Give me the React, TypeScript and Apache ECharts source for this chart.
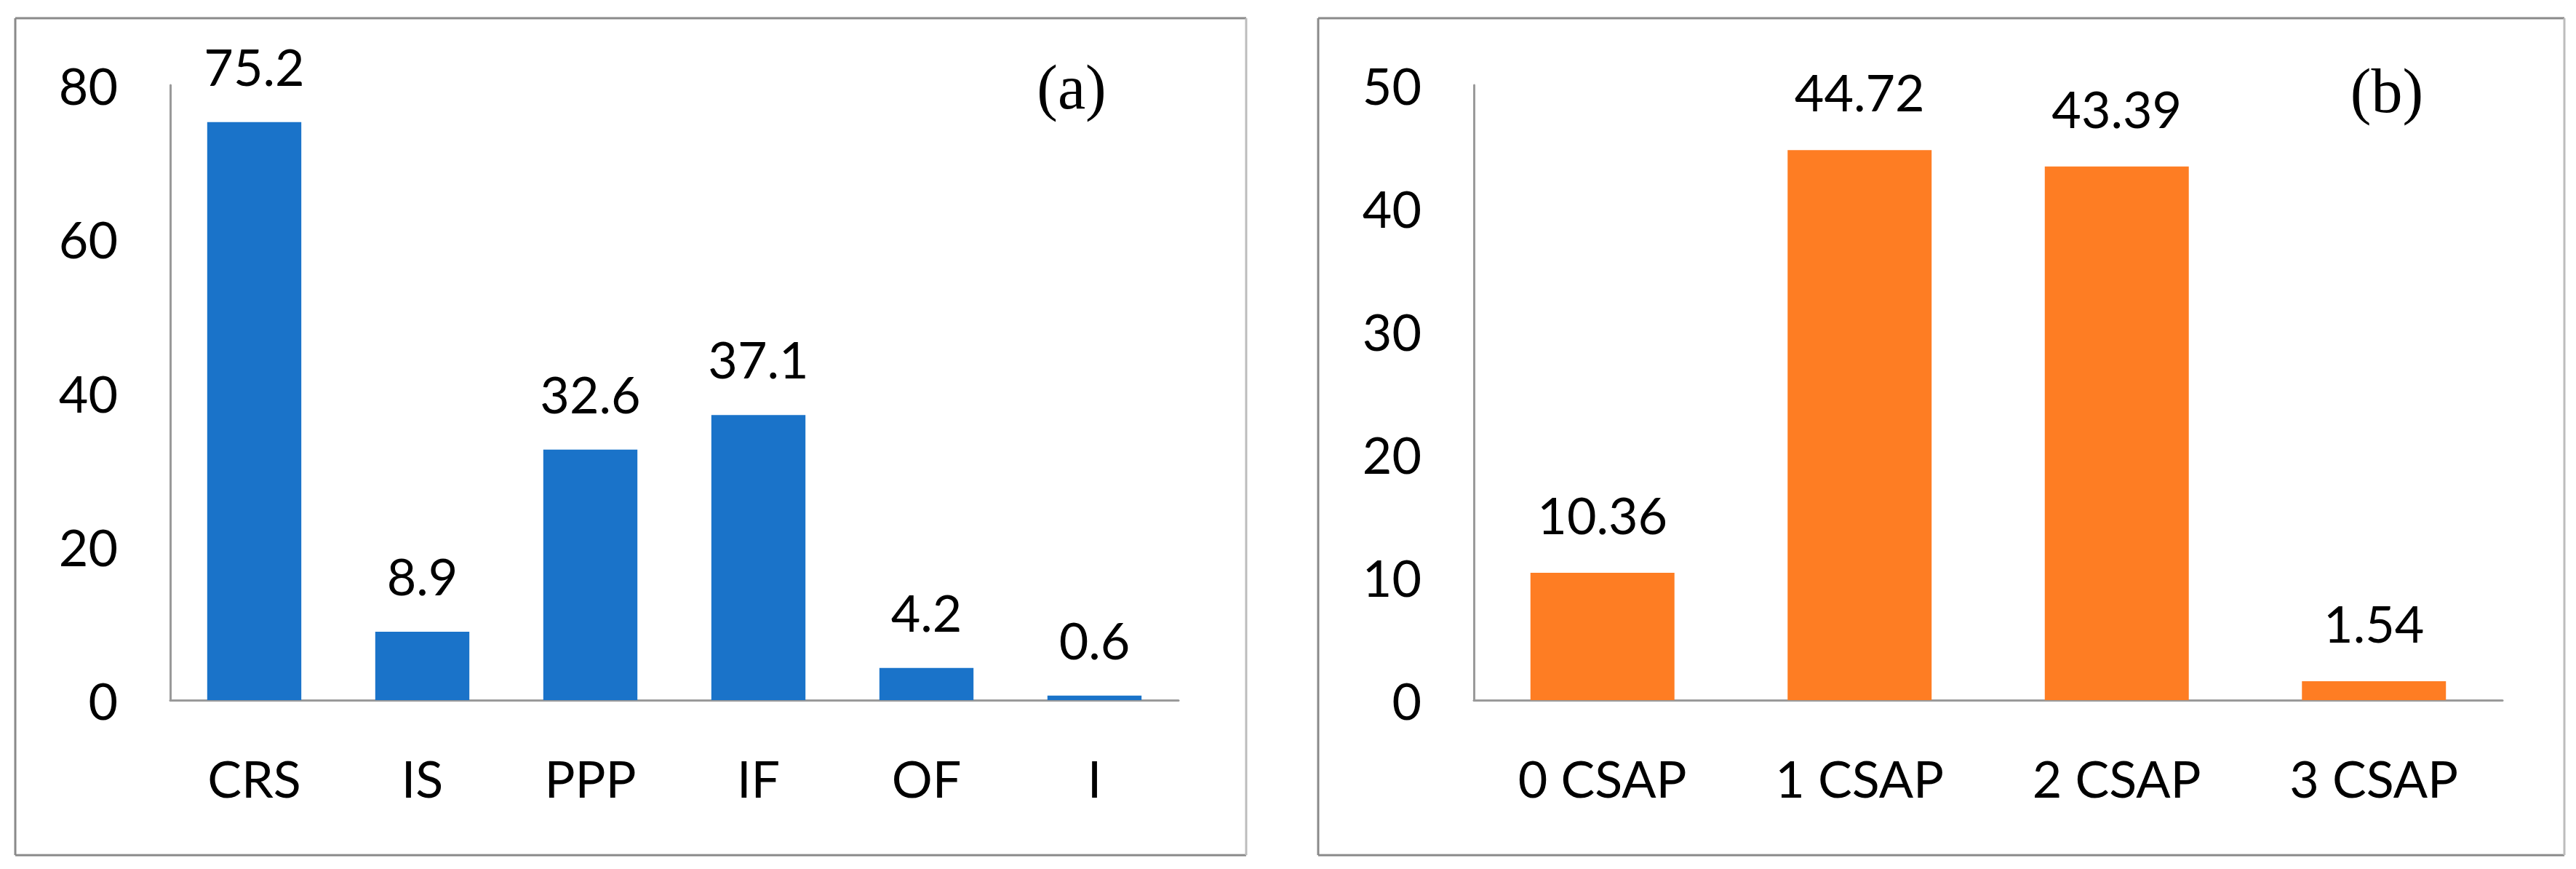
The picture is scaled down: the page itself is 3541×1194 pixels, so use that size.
import React, { useEffect, useRef } from "react";
import * as echarts from "echarts";

const categoriesA = ["CRS", "IS", "PPP", "IF", "OF", "I"];
const valuesA = [75.2, 8.9, 32.6, 37.1, 4.2, 0.6];
const categoriesB = ["0 CSAP", "1 CSAP", "2 CSAP", "3 CSAP"];
const valuesB = [10.36, 44.72, 43.39, 1.54];
const panelLabels = ["(a)", "(b)"];

const FONT = "Lato";
const FS = 70;

function frame(x0: number, y0: number, x1: number, y1: number) {
  const dark = { stroke: "#8a8a8a", lineWidth: 3 };
  const light = { stroke: "#bdbdbd", lineWidth: 3 };
  return [
    { type: "line", silent: true, shape: { x1: x0, y1: y0, x2: x1, y2: y0 }, style: dark },
    { type: "line", silent: true, shape: { x1: x0, y1: y0, x2: x0, y2: y1 }, style: dark },
    { type: "line", silent: true, shape: { x1: x0, y1: y1, x2: x1, y2: y1 }, style: dark },
    { type: "line", silent: true, shape: { x1: x1, y1: y0, x2: x1, y2: y1 }, style: light },
  ];
}

export default function App() {
  const ref = useRef<HTMLDivElement>(null);
  useEffect(() => {
    if (!ref.current) return;
    const chart = echarts.init(ref.current, undefined, { renderer: "svg" });
    const axisLineStyle = { color: "#9a9a9a", width: 3 };
    const labelStyle = { color: "#000", fontFamily: FONT, fontSize: FS };
    chart.setOption({
      animation: false,
      backgroundColor: "#ffffff",
      grid: [
        { left: 234, top: 117, width: 1386, height: 845 },
        { left: 2026, top: 117, width: 1414, height: 845 },
      ],
      xAxis: [
        {
          gridIndex: 0,
          type: "category",
          data: categoriesA,
          axisTick: { show: false },
          axisLine: { lineStyle: axisLineStyle },
          axisLabel: { ...labelStyle, margin: 72 },
        },
        {
          gridIndex: 1,
          type: "category",
          data: categoriesB,
          axisTick: { show: false },
          axisLine: { lineStyle: axisLineStyle },
          axisLabel: { ...labelStyle, margin: 72 },
        },
      ],
      yAxis: [
        {
          gridIndex: 0,
          type: "value",
          min: 0,
          max: 80,
          interval: 20,
          axisLine: { show: true, lineStyle: axisLineStyle },
          axisTick: { show: false },
          splitLine: { show: false },
          axisLabel: { ...labelStyle, margin: 72 },
        },
        {
          gridIndex: 1,
          type: "value",
          min: 0,
          max: 50,
          interval: 10,
          axisLine: { show: true, lineStyle: axisLineStyle },
          axisTick: { show: false },
          splitLine: { show: false },
          axisLabel: { ...labelStyle, margin: 72 },
        },
      ],
      series: [
        {
          type: "bar",
          xAxisIndex: 0,
          yAxisIndex: 0,
          data: valuesA,
          barWidth: "56%",
          itemStyle: { color: "#1a73c9" },
          label: {
            show: true,
            position: "top",
            distance: 42,
            color: "#000",
            fontFamily: FONT,
            fontSize: FS,
          },
        },
        {
          type: "bar",
          xAxisIndex: 1,
          yAxisIndex: 1,
          data: valuesB,
          barWidth: "56%",
          itemStyle: { color: "#fe7d23" },
          label: {
            show: true,
            position: "top",
            distance: 45,
            color: "#000",
            fontFamily: FONT,
            fontSize: FS,
          },
        },
      ],
      graphic: [
        ...frame(21, 25, 1713, 1175),
        ...frame(1812, 25, 3525, 1175),
        {
          type: "text",
          x: 1473,
          y: 120,
          style: {
            text: panelLabels[0],
            fontFamily: "Liberation Serif",
            fontSize: 86,
            fill: "#000",
            align: "center",
            verticalAlign: "middle",
          },
        },
        {
          type: "text",
          x: 3281,
          y: 125,
          style: {
            text: panelLabels[1],
            fontFamily: "Liberation Serif",
            fontSize: 86,
            fill: "#000",
            align: "center",
            verticalAlign: "middle",
          },
        },
      ],
    });
    return () => chart.dispose();
  }, []);
  return (
    <div
      ref={ref}
      style={{ position: "absolute", left: 0, top: 0, width: 3541, height: 1194 }}
    />
  );
}
